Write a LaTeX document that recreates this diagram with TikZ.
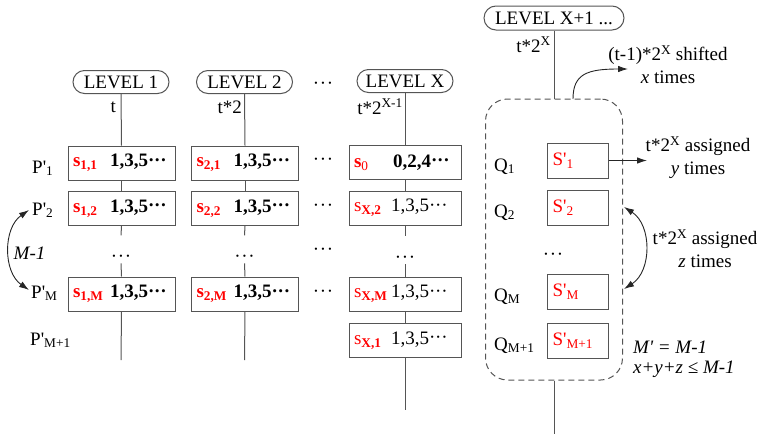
\documentclass[tikz,border=0pt]{standalone}
\usepackage{fontspec}
\setmainfont{Liberation Serif}
\usetikzlibrary{arrows.meta}
\definecolor{lc}{HTML}{555555}
\definecolor{rd}{HTML}{FF0000}
\newcommand\mdots{·\kern0.6pt·\kern0.6pt·}
\newcommand\celldots{\raisebox{0.8pt}{·\kern-0.2pt·\kern-0.2pt·}}
\newcommand\sv[2]{\makebox[37pt][l]{\color{rd}\textbf{s}\textsubscript{\textbf{#1}}}\textbf{#2}}
\newcommand\svr[2]{\makebox[37pt][l]{\color{rd}s\textsubscript{\textbf{#1}}}#2}
\newcommand\pq{\textquotesingle}
\begin{document}
\begin{tikzpicture}[x=1pt,y=-1pt,
  every node/.style={font=\fontsize{19}{23}\selectfont, text=black},
  conn/.style={draw=lc, line width=1pt},
  pill/.style={draw=lc, line width=1pt, fill=white, rounded corners=11.5pt, minimum height=23pt, minimum width=96pt, inner sep=0pt},
  cell/.style={draw=lc, line width=1pt, fill=white, minimum height=34pt, inner xsep=5pt, inner ysep=0pt, align=left, text width=97pt},
  cellx/.style={cell, text width=102pt},
  qcell/.style={draw=lc, line width=1pt, fill=white, minimum height=35pt, text width=50pt, inner xsep=5.5pt, inner ysep=0pt, align=left},
  vdots/.style={inner xsep=1pt, inner ysep=0pt, text height=26.5pt, text depth=1.2pt, anchor=base},
  hdots/.style={inner sep=0pt, anchor=base},
  lbl/.style={inner sep=0pt, anchor=base west},
  tl/.style={inner sep=0pt, anchor=base east},
  arr/.style={draw=black!85, line width=0.9pt, -{Latex[length=10pt,width=6.5pt]}},
  darr/.style={draw=black!85, line width=0.9pt, {Latex[length=10pt,width=6.5pt]}-{Latex[length=10pt,width=6.5pt]}},
  grpbox/.style={draw=lc, line width=1pt, dash pattern=on 6pt off 4pt, rounded corners=22pt, minimum width=137pt, minimum height=281pt, inner sep=0pt}
]
\useasboundingbox (0,0) rectangle (759,434);

% ---------- level headers ----------
\node[pill] (l1) at (121,82) {LEVEL 1};
\node[pill] (l2) at (244.5,82) {LEVEL 2};
\node[pill] (lx) at (405,81) {LEVEL X};
\node[pill, minimum width=140pt, minimum height=24pt, rounded corners=12pt] (lx1) at (554,18) {LEVEL X+1 ...};
\node[hdots] (hd) at (323,89) {\mdots};

\node[tl] (t1) at (116,112) {t};
\node[tl] (t2) at (242,113) {t*2};
\node[tl] (tx) at (403,114) {t*2\textsuperscript{X-1}};
\node[tl] (tx1) at (551,52) {t*2\textsuperscript{X}};

% ---------- column 1 ----------
\node[cell] (c11) at (121.5,163) {\sv{1,1}{1,3,5\celldots}};
\node[cell] (c12) at (121.5,208.5) {\sv{1,2}{1,3,5\celldots}};
\node[vdots] (d1) at (121,262) {\mdots};
\node[cell] (c1m) at (121.5,294) {\sv{1,M}{1,3,5\celldots}};
\coordinate (e1) at (121,360);
\draw[conn] (l1.south) -- (c11.north);
\draw[conn] (c11.south) -- (c12.north);
\draw[conn] (c12.south) -- (d1.north);
\draw[conn] (d1.south) -- (c1m.north);
\draw[conn] (c1m.south) -- (e1);

% ---------- column 2 ----------
\node[cell] (c21) at (245,163) {\sv{2,1}{1,3,5\celldots}};
\node[cell] (c22) at (245,208.5) {\sv{2,2}{1,3,5\celldots}};
\node[vdots] (d2) at (244.5,262) {\mdots};
\node[cell] (c2m) at (245,294) {\sv{2,M}{1,3,5\celldots}};
\coordinate (e2) at (244.5,360);
\draw[conn] (l2.south) -- (c21.north);
\draw[conn] (c21.south) -- (c22.north);
\draw[conn] (c22.south) -- (d2.north);
\draw[conn] (d2.south) -- (c2m.north);
\draw[conn] (c2m.south) -- (e2);

% ---------- gap dots ----------
\node[hdots] (g1) at (323,165) {\mdots};
\node[hdots] (g2) at (323,211) {\mdots};
\node[hdots] (g3) at (323,255) {\mdots};
\node[hdots] (g4) at (323,297) {\mdots};

% ---------- column X ----------
\node[cellx] (cx1) at (405,162.5) {\makebox[39pt][l]{\color{rd}\textbf{s}\textsubscript{0}}\textbf{0,2,4\celldots}};
\node[cellx] (cx2) at (405,208) {\svr{X,2}{1,3,5\celldots}};
\node[vdots] (dx) at (405,263) {\mdots};
\node[cellx] (cxm) at (405,294) {\svr{X,M}{1,3,5\celldots}};
\node[cellx] (cxx) at (405,340.5) {\svr{X,1}{1,3,5\celldots}};
\coordinate (ex) at (405,410);
\draw[conn] (lx.south) -- (cx1.north);
\draw[conn] (cx1.south) -- (cx2.north);
\draw[conn] (cx2.south) -- (dx.north);
\draw[conn] (dx.south) -- (cxm.north);
\draw[conn] (cxm.south) -- (cxx.north);
\draw[conn] (cxx.south) -- (ex);

% ---------- row labels ----------
\node[lbl] (p1) at (32,173) {P\pq\textsubscript{1}};
\node[lbl] (p2) at (32,215) {P\pq\textsubscript{2}};
\node[lbl] (pm) at (31,298) {P\pq\textsubscript{M}};
\node[lbl] (pm1) at (30,345) {P\pq\textsubscript{M+1}};
\coordinate (ma) at (29,210);
\coordinate (mb) at (29,290);
\draw[darr] (ma) .. controls (3,228) and (3,272) .. (mb);
\node (mlab) at (29.5,253) {\textit{M-1}};

% ---------- level X+1 group ----------
\node[grpbox] (grp) at (554,239.5) {};
\draw[conn] (lx1.south) -- (grp.north);
\coordinate (eg) at (554,434);
\draw[conn] (grp.south) -- (eg);

\coordinate (sa) at (573,99);
\coordinate (sb) at (628,69);
\draw[arr] (sa) .. controls (573,74) and (587,69) .. (sb);
\node[align=center] (shl) at (668,65) {(t-1)*2\textsuperscript{X} shifted\\\textit{x} times};

\node[qcell] (s1) at (577.5,160.5) {\color{rd}S\pq\textsubscript{1}};
\node[qcell] (s2) at (577.5,207.5) {\color{rd}S\pq\textsubscript{2}};
\node[hdots] (qd) at (553,260) {\mdots};
\node[qcell] (sm) at (577.5,291.5) {\color{rd}S\pq\textsubscript{M}};
\node[qcell] (sm1) at (577.5,340.5) {\color{rd}S\pq\textsubscript{M+1}};

\node[lbl] (q1) at (494,171) {Q\textsubscript{1}};
\node[lbl] (q2) at (494,217) {Q\textsubscript{2}};
\node[lbl] (qm) at (494,301) {Q\textsubscript{M}};
\node[lbl] (qm1) at (494,350) {Q\textsubscript{M+1}};

\coordinate (ya) at (647,160.5);
\draw[arr] (s1.east) -- (ya);
\node[align=center] (yl) at (698,158) {t*2\textsuperscript{X} assigned\\\textit{y} times};

\coordinate (za) at (624,207);
\coordinate (zb) at (624,289);
\draw[darr] (za) .. controls (652,225) and (652,271) .. (zb);
\node[align=center] (zl) at (705,249) {t*2\textsuperscript{X} assigned\\\textit{z} times};

\node[lbl] (mp1) at (633,353) {\textit{M\pq\ = M-1}};
\node[lbl] (mp2) at (633,373) {\textit{x+y+z ≤ M-1}};
\end{tikzpicture}
\end{document}
